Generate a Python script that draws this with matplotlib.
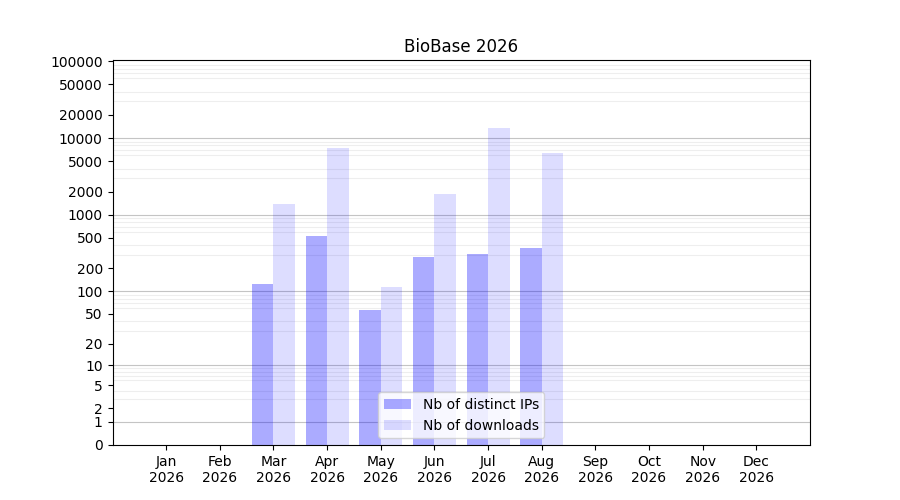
import numpy as np
import matplotlib
matplotlib.use("Agg")
import matplotlib.pyplot as plt
from matplotlib.ticker import FixedLocator, NullFormatter

months = ["Jan", "Feb", "Mar", "Apr", "May", "Jun",
          "Jul", "Aug", "Sep", "Oct", "Nov", "Dec"]
year = "2026"
distinct_ips = [0, 0, 125, 526, 57, 280, 306, 367, 0, 0, 0, 0]
downloads = [0, 0, 1370, 7400, 114, 1850, 13400, 6350, 0, 0, 0, 0]
tick_values = [0, 1, 2, 5, 10, 20, 50, 100, 200, 500, 1000, 2000, 5000,
               10000, 20000, 50000, 100000]


def forward(v):
    return np.log10(np.asarray(v) + 1.0)


def inverse(v):
    return 10.0 ** np.asarray(v) - 1.0


fig, ax = plt.subplots(figsize=(9, 5), dpi=100)
ax.set_yscale("function", functions=(forward, inverse))

x = np.arange(len(months))
ax.bar(x - 0.2, distinct_ips, width=0.4, color="blue", alpha=0.33,
       label="Nb of distinct IPs")
ax.bar(x + 0.2, downloads, width=0.4, color="blue", alpha=0.135,
       label="Nb of downloads")

ax.set_xlim(-1, 12)
ax.set_ylim(0, 104000)
ax.set_xticks(x)
ax.set_xticklabels([f"{m}\n{year}" for m in months])
ax.yaxis.set_major_locator(FixedLocator(tick_values))
ax.set_yticklabels([str(v) for v in tick_values])

# light grid at every 1..9 x 10^k, darker at each decade
minor = [m * 10 ** k for k in range(0, 5) for m in range(2, 10)]
ax.yaxis.set_minor_locator(FixedLocator(minor))
ax.yaxis.set_minor_formatter(NullFormatter())
ax.tick_params(axis="y", which="minor", length=0)
ax.grid(True, which="minor", axis="y", color="#eeeeee", linewidth=0.8)
for d in [1, 10, 100, 1000, 10000]:
    ax.axhline(d, color="#c4c4c4", linewidth=0.8, zorder=0.5)
ax.set_axisbelow(True)

ax.set_title("BioBase 2026")
ax.legend(loc="lower center")

fig.savefig("out.png")
